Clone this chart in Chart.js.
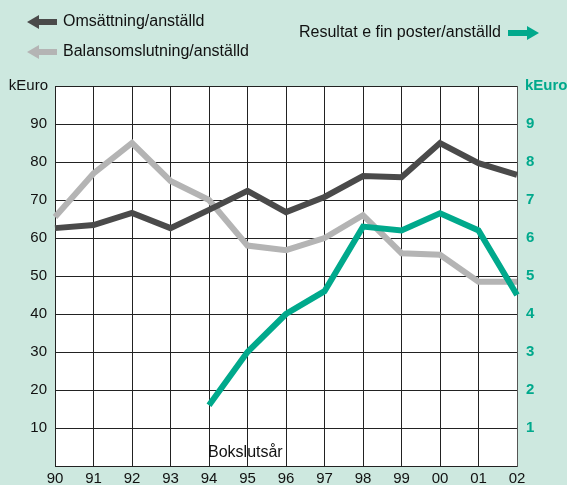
<!DOCTYPE html>
<html>
<head>
<meta charset="utf-8">
<script src="https://cdn.jsdelivr.net/npm/chart.js@4"></script>
<style>
 html,body{margin:0;padding:0;background:#cde8df;}
 #wrap{width:567px;height:485px;position:relative;}
</style>
</head>
<body>
<div id="wrap"><canvas id="chart" width="567" height="485"></canvas></div>
<script>
const years = ["90","91","92","93","94","95","96","97","98","99","00","01","02"];
const omsattning = [62.6,63.4,66.6,62.6,67.4,72.4,66.8,70.8,76.3,76,85,79.7,76.6];
const balans = [65.5,77,85,75,70,58,56.8,60,66,56,55.6,48.5,48.5];
const resultat = [null,null,null,null,1.6,3.0,4.0,4.6,6.3,6.2,6.65,6.2,4.5];
const leftTicks = [10,20,30,40,50,60,70,80,90];
const rightTicks = [1,2,3,4,5,6,7,8,9];

const DARK="#4a4a4a", GREY="#b4b4b4", TEAL="#00a98c";
const FONT="'Liberation Sans', Arial, sans-serif";

// white plot area, legend arrows, unit labels
const decor = {
  id:"decor",
  beforeDraw(chart){
    const {ctx, chartArea:a} = chart;
    ctx.save();
    ctx.fillStyle="#ffffff";
    ctx.fillRect(a.left,a.top,a.right-a.left,a.bottom-a.top);
    ctx.restore();
  },
  afterDraw(chart){
    const ctx = chart.ctx, a = chart.chartArea;
    ctx.save();
    function arrow(x1,x2,y,col,left){
      ctx.fillStyle=col;
      const head=12, h=7, t=3;
      if(left){
        ctx.beginPath();
        ctx.moveTo(x1,y);ctx.lineTo(x1+head,y-h);ctx.lineTo(x1+head,y+h);ctx.closePath();ctx.fill();
        ctx.fillRect(x1+head-1,y-t,x2-x1-head+1,t*2);
      } else {
        ctx.beginPath();
        ctx.moveTo(x2,y);ctx.lineTo(x2-head,y-h);ctx.lineTo(x2-head,y+h);ctx.closePath();ctx.fill();
        ctx.fillRect(x1,y-t,x2-x1-head+1,t*2);
      }
    }
    const ds = chart.data.datasets;
    ctx.font="16px "+FONT;
    ctx.textBaseline="middle";
    ctx.textAlign="left";
    arrow(27,57,22,DARK,true);
    ctx.fillStyle="#111";
    ctx.fillText(ds[0].label,63,22);
    arrow(27,57,52,GREY,true);
    ctx.fillStyle="#111";
    ctx.fillText(ds[1].label,63,52);
    ctx.fillText(ds[2].label,299,33);
    arrow(508,539,33,TEAL,false);

    ctx.font="15px "+FONT;
    ctx.textAlign="right";
    ctx.fillStyle="#111";
    ctx.fillText("kEuro",48,a.top);
    ctx.textAlign="left";
    ctx.fillStyle=TEAL;
    ctx.font="bold 15px "+FONT;
    ctx.fillText("kEuro",525,a.top);

    const x94 = chart.scales.x.getPixelForValue(4);
    ctx.font="16px "+FONT;
    ctx.fillStyle="#111";
    ctx.fillText("Bokslutsår",x94-1,a.bottom-13);
    ctx.restore();
  }
};

new Chart(document.getElementById("chart"), {
  type:"line",
  data:{
    labels:years,
    datasets:[
      {label:"Omsättning/anställd",data:omsattning,borderColor:DARK,yAxisID:"y",order:2},
      {label:"Balansomslutning/anställd",data:balans,borderColor:GREY,yAxisID:"y",order:3},
      {label:"Resultat e fin poster/anställd",data:resultat,borderColor:TEAL,yAxisID:"y2",order:1}
    ]
  },
  options:{
    responsive:false,
    animation:false,
    layout:{padding:{top:86,left:0,right:0,bottom:0}},
    elements:{
      line:{borderWidth:6,tension:0,borderJoinStyle:"miter",borderCapStyle:"butt"},
      point:{radius:0,hoverRadius:0}
    },
    plugins:{legend:{display:false},tooltip:{enabled:false}},
    scales:{
      x:{
        offset:false,
        grid:{color:"#222",lineWidth:1,drawTicks:false},
        border:{color:"#222"},
        ticks:{color:"#111",font:{family:FONT,size:15},padding:4,maxRotation:0,autoSkip:false},
        afterFit(s){s.height=19;}
      },
      y:{
        position:"left",min:0,max:100,
        grid:{color:"#222",lineWidth:1,drawTicks:false},
        border:{color:"#222"},
        ticks:{stepSize:10,color:"#111",font:{family:FONT,size:15},padding:8,
          callback:v=>leftTicks.includes(v)?String(v):""},
        afterFit(s){s.width=55;}
      },
      y2:{
        position:"right",min:0,max:10,
        grid:{display:false,drawTicks:false},
        border:{color:"#555"},
        ticks:{stepSize:1,color:TEAL,font:{family:FONT,size:15,weight:"bold"},padding:9,
          callback:v=>rightTicks.includes(v)?String(v):""},
        afterFit(s){s.width=50;}
      }
    }
  },
  plugins:[decor]
});
</script>
</body>
</html>
